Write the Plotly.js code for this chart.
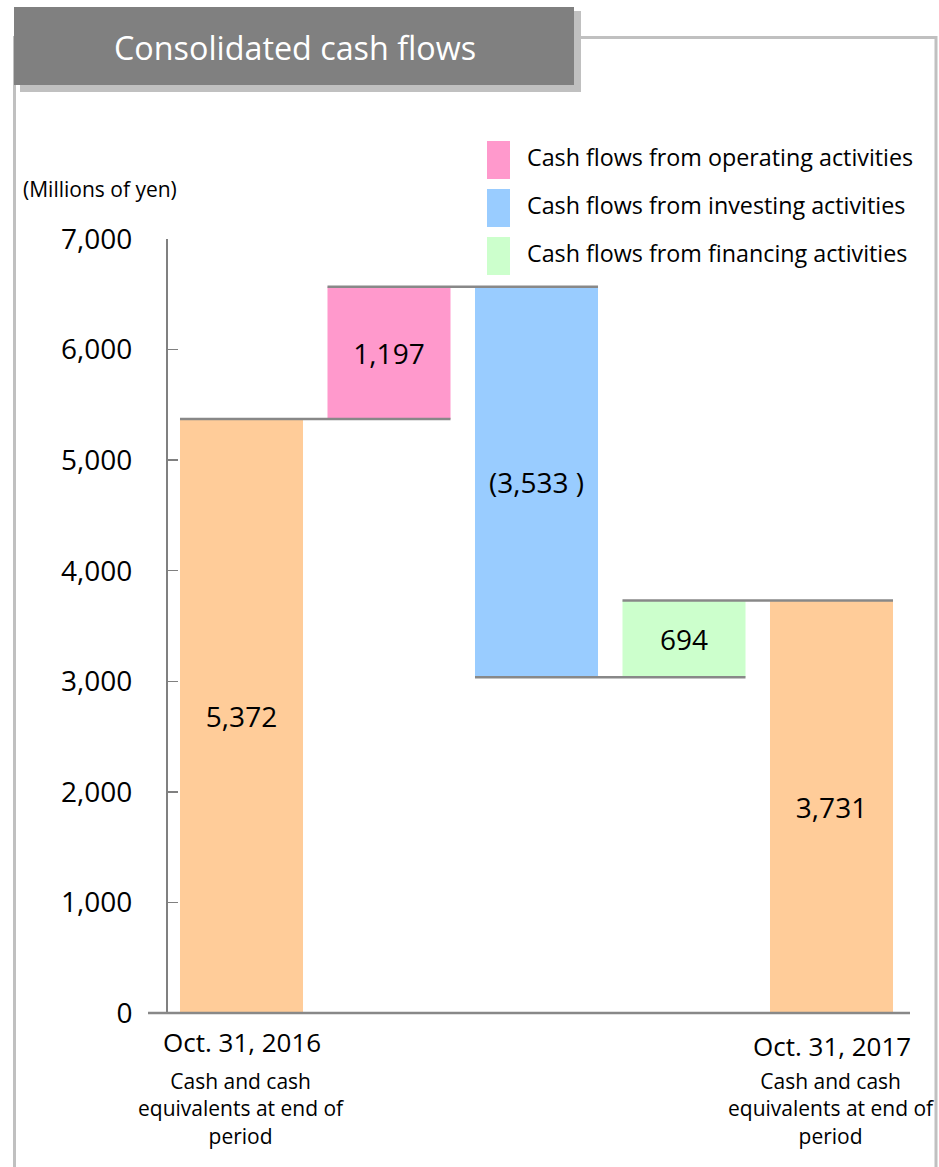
<!DOCTYPE html>
<html>
<head>
<meta charset="utf-8">
<script src="https://cdn.plot.ly/plotly-3.0.1.min.js"></script>
<style>
  html, body { margin: 0; padding: 0; background: #ffffff; }
  #chart { width: 939px; height: 1167px; }
</style>
</head>
<body>
<div id="chart"></div>
<script>
// ---- Data ----
const chartTitle = "Consolidated cash flows";
const unitLabel = "(Millions of yen)";
const categories = ["Oct. 31, 2016", "Cash flows from operating activities", "Cash flows from investing activities", "Cash flows from financing activities", "Oct. 31, 2017"];
const startValue = 5372;
const changes = [1197, -3533, 694];
const endValue = 3731;
const barLabels = ["5,372", "1,197", "(3,533 )", "694", "3,731"];
const barColors = ["#FFCC99", "#FF99CC", "#99CCFF", "#CCFFCC", "#FFCC99"];
const legendLabels = ["Cash flows from operating activities", "Cash flows from investing activities", "Cash flows from financing activities"];
const legendColors = ["#FF99CC", "#99CCFF", "#CCFFCC"];
const dateLabels = ["Oct. 31, 2016", "Oct. 31, 2017"];
const dateSubLabel = "Cash and cash<br>equivalents at end of<br>period";
const yTickVals = [0, 1000, 2000, 3000, 4000, 5000, 6000, 7000];

// ---- Build waterfall geometry from data ----
const xs = categories.map((_, i) => i);
const heights = [startValue];
const bases = [0];
const running = [startValue];
let cur = startValue;
changes.forEach(c => {
  const next = cur + c;
  bases.push(Math.min(cur, next));
  heights.push(Math.abs(c));
  running.push(next);
  cur = next;
});
heights.push(endValue);
bases.push(0);

const W = 939, H = 1167;
const L = 168, R = 29, T = 239, B = 154;
const plotW = W - L - R, plotH = H - T - B;
const px = x => (x - L) / plotW;
const py = y => (H - B - y) / plotH;

const barW = 0.834;

// connectors
const cx = [], cy = [];
for (let i = 0; i < running.length; i++) {
  cx.push(xs[i] - barW / 2, xs[i + 1] + barW / 2, null);
  cy.push(running[i], running[i], null);
}

const fontFam = "'Open Sans', 'DejaVu Sans', sans-serif";

const traces = [
  {
    type: "bar",
    x: xs,
    y: heights,
    base: bases,
    width: barW,
    marker: { color: barColors, line: { width: 0 } },
    text: barLabels,
    textposition: "inside",
    insidetextanchor: "middle",
    textangle: 0,
    constraintext: "none",
    textfont: { family: fontFam, size: 28, color: "#000000" },
    insidetextfont: { family: fontFam, size: 28, color: "#000000" },
    hoverinfo: "skip",
    showlegend: false
  },
  {
    type: "scatter",
    mode: "lines",
    x: cx,
    y: cy,
    line: { color: "#888888", width: 2.5 },
    hoverinfo: "skip",
    showlegend: false
  }
];

const shapes = [
  // frame
  { type: "rect", xref: "paper", yref: "paper", x0: px(14.5), x1: px(936), y0: py(37.5), y1: py(1180),
    line: { color: "#c0c0c0", width: 3 }, fillcolor: "rgba(0,0,0,0)" },
  // title shadow
  { type: "rect", xref: "paper", yref: "paper", x0: px(20), x1: px(581), y0: py(11), y1: py(92),
    line: { width: 0 }, fillcolor: "#c0c0c0" },
  // title box
  { type: "rect", xref: "paper", yref: "paper", x0: px(14), x1: px(574), y0: py(7), y1: py(85),
    line: { width: 0 }, fillcolor: "#808080" },
  // x axis line
  { type: "line", xref: "paper", yref: "paper", x0: px(148), x1: px(910), y0: py(1013), y1: py(1013),
    line: { color: "#888888", width: 2.5 } }
];

const swatchTops = [141, 189, 237];
legendColors.forEach((c, i) => {
  shapes.push({ type: "rect", xref: "paper", yref: "paper", x0: px(487), x1: px(510),
    y0: py(swatchTops[i]), y1: py(swatchTops[i] + 38), line: { width: 0 }, fillcolor: c });
});

const annotations = [
  { text: chartTitle, xref: "paper", yref: "paper", x: px(295), y: py(47), xanchor: "center", yanchor: "middle",
    showarrow: false, font: { family: fontFam, size: 32.3, color: "#ffffff" } },
  { text: unitLabel, xref: "paper", yref: "paper", x: px(21), y: py(189), xanchor: "left", yanchor: "middle",
    showarrow: false, font: { family: fontFam, size: 21, color: "#000000" } }
];
legendLabels.forEach((t, i) => {
  annotations.push({ text: t, xref: "paper", yref: "paper", x: px(525), y: py(swatchTops[i] + 16),
    xanchor: "left", yanchor: "middle", showarrow: false,
    font: { family: fontFam, size: 23.3, color: "#000000" } });
});
const dateY = [1042, 1046];
const dateIdx = [0, xs.length - 1];
dateLabels.forEach((t, k) => {
  annotations.push({ text: t, xref: "x", yref: "paper", x: xs[dateIdx[k]], y: py(dateY[k]),
    xanchor: "center", yanchor: "middle", showarrow: false,
    font: { family: fontFam, size: 26, color: "#000000" } });
  annotations.push({ text: dateSubLabel, xref: "x", yref: "paper", x: xs[dateIdx[k]], y: py(1108),
    xanchor: "center", yanchor: "middle", showarrow: false, align: "center",
    font: { family: fontFam, size: 21, color: "#000000" } });
});

const layout = {
  width: W, height: H,
  margin: { l: L, r: R, t: T, b: B, pad: 0 },
  paper_bgcolor: "#ffffff",
  plot_bgcolor: "rgba(0,0,0,0)",
  showlegend: false,
  xaxis: {
    range: [(L - 241.5) / 147.5, (W - R - 241.5) / 147.5],
    showticklabels: false, showgrid: false, zeroline: false, showline: false, ticks: "",
    fixedrange: true
  },
  yaxis: {
    range: [0, 7000],
    tickvals: yTickVals,
    tickformat: ",",
    ticks: "inside", ticklen: 10, tickwidth: 1.5, tickcolor: "#808080",
    showline: true, linecolor: "#808080", linewidth: 2,
    showgrid: false, zeroline: false,
    ticklabelstandoff: 28,
    tickfont: { family: fontFam, size: 28, color: "#000000" },
    fixedrange: true
  },
  shapes: shapes,
  annotations: annotations
};

Plotly.newPlot("chart", traces, layout, { staticPlot: true, displayModeBar: false });
</script>
</body>
</html>
